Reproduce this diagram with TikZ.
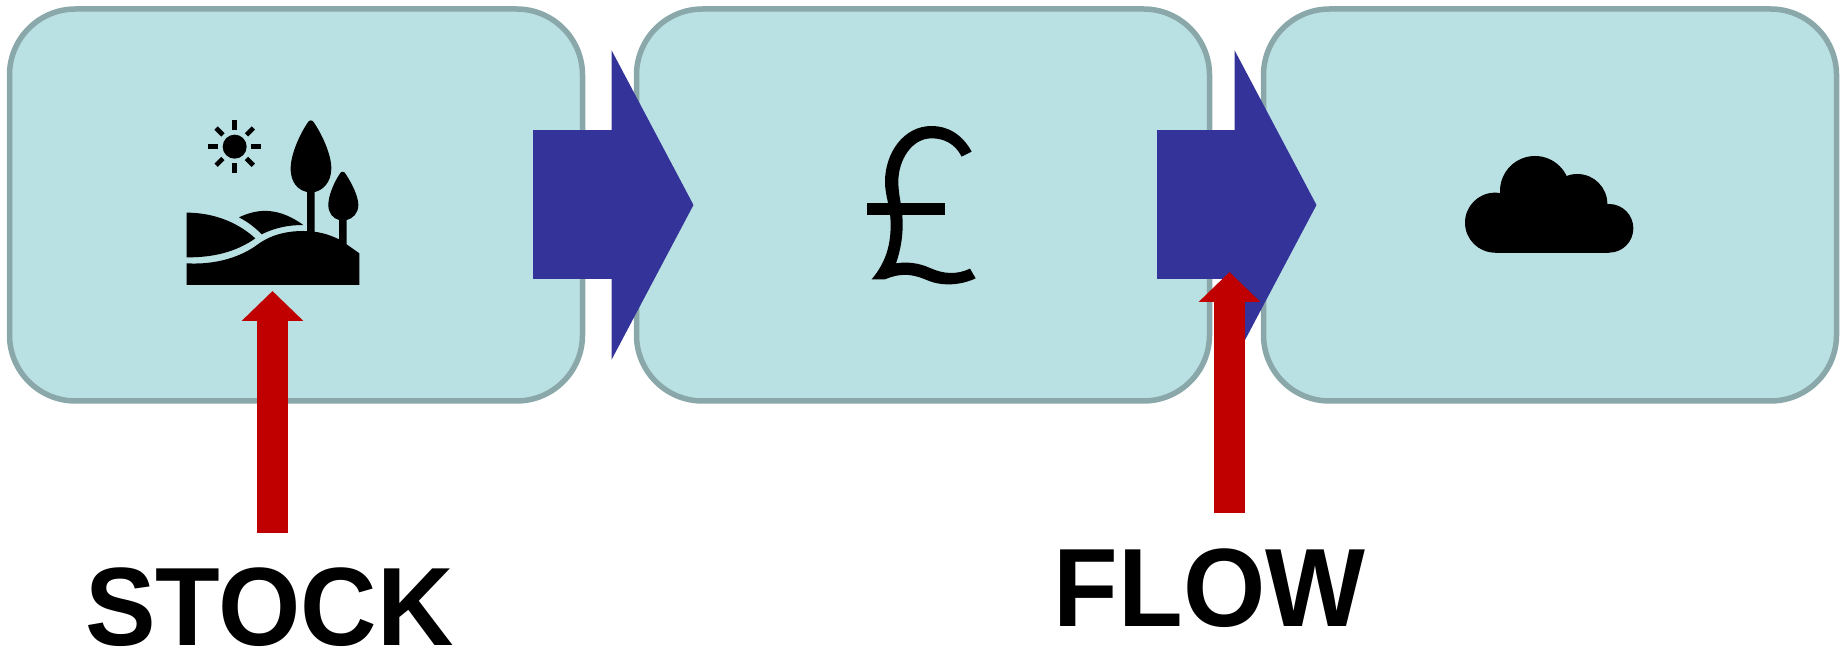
\documentclass[tikz,border=0pt]{standalone}
\usepackage{fontspec}
\setmainfont{Liberation Sans}[FakeStretch=0.95]
\usetikzlibrary{arrows.meta, positioning}
\definecolor{Pool}{HTML}{B9E0E3}
\definecolor{PoolEdge}{HTML}{8AA8AA}
\definecolor{Indigo}{HTML}{333399}
\definecolor{Signal}{HTML}{C00000}
\tikzset{
  stagebox/.style={rectangle, rounded corners=33pt, draw=PoolEdge, fill=Pool, line width=2.75pt,
                   minimum width=286.5pt, minimum height=196pt, outer sep=0pt, inner sep=0pt},
  labeltext/.style={font=\fontsize{55.7pt}{60pt}\selectfont\bfseries, text=black, inner sep=0pt, outer sep=0pt},
  flowarr/.style={-{Triangle[length=41pt,width=153.25pt]}, line width=74.5pt, color=Indigo},
  callarr/.style={-{Triangle[length=15pt,width=30pt]}, line width=15.5pt, color=Signal},
}

\begin{document}
\begin{tikzpicture}[x=0.5pt, y=-0.5pt, node distance=27pt]
  \useasboundingbox (0,0) rectangle (1845,656);
  \node[stagebox] (land) at (296,205) {};
  \node[stagebox, right=of land] (money) {};
  \node[stagebox, right=of money] (air) {};
  % landscape
  \begin{scope}[shift={(160,100)}, scale=1/3]
    \fill (224,140) circle (36);
    \foreach \a in {0,45,...,315}
      \draw[line width=2.35pt] (224,140)++(\a:50) -- ++(\a:29);
    \fill (443,68) .. controls (447,59) and (458,59) .. (462,68)
      .. controls (482,97) and (514,160) .. (514,205)
      .. controls (514,250) and (485,272) .. (464,276) -- (464,400) -- (441,400) -- (441,276)
      .. controls (415,270) and (392,250) .. (392,205)
      .. controls (392,160) and (423,97) .. (443,68) -- cycle;
    \fill (539,222) .. controls (543,213) and (553,213) .. (557,222)
      .. controls (577,252) and (595,290) .. (595,315)
      .. controls (595,340) and (578,356) .. (560,360) -- (560,433) -- (598,460) -- (598,555)
      -- (80,555) -- (80,490) .. controls (170,495) and (245,470) .. (295,432)
      .. controls (340,400) and (390,393) .. (430,393) .. controls (470,393) and (505,402) .. (537,418)
      -- (537,360) .. controls (520,356) and (505,340) .. (505,315)
      .. controls (505,290) and (519,252) .. (539,222) -- cycle;
    \fill (80,338) .. controls (150,338) and (225,360) .. (286,415)
      .. controls (230,455) and (160,473) .. (80,472) -- cycle;
    \fill (237,352) .. controls (300,322) and (360,325) .. (430,375)
      .. controls (385,375) and (345,383) .. (305,403) .. controls (285,382) and (262,365) .. (237,352) -- cycle;
  \end{scope}
  % pound
  \begin{scope}[shift={(840,100)}, scale=1/3]
    \fill (395,155) .. controls (365,100) and (320,78) .. (275,78)
      .. controls (190,78) and (135,160) .. (135,245)
      .. controls (135,290) and (152,320) .. (152,375)
      .. controls (152,440) and (135,490) .. (95,538) -- (135,538)
      .. controls (190,515) and (225,525) .. (265,542)
      .. controls (310,560) and (365,555) .. (407,535) -- (390,506)
      .. controls (350,525) and (310,522) .. (270,504)
      .. controls (235,488) and (200,485) .. (168,490)
      .. controls (182,450) and (188,410) .. (188,375)
      .. controls (188,320) and (175,290) .. (175,245)
      .. controls (175,180) and (215,115) .. (275,115)
      .. controls (310,115) and (345,130) .. (365,170) -- cycle;
    \fill (80,308) rectangle (315,344);
  \end{scope}
  % cloud
  \begin{scope}[shift={(1440,130)}, scale=1/3]
    \foreach \cx/\cy/\r in {165/278/90, 285/183/105, 412/222/90, 507/295/73}
      \fill (\cx,\cy) circle (\r);
    \fill (165,240) rectangle (507,368);
  \end{scope}
  \draw[flowarr, shorten <=-24.75pt, shorten >=-28.5pt] (land.east) -- (money.west);
  \draw[flowarr, shorten <=-26.5pt, shorten >=-26.5pt] (money.east) -- (air.west);
  \node[labeltext] (stock) at (269.5,607.5) {STOCK};
  \node[labeltext] (flow) at (1209.5,588) {FLOW};
  \coordinate (stocktip) at (272.5,291);
  \coordinate (flowtip) at (1229.5,272);
  \draw[callarr, shorten <=17.5pt] (stocktip |- stock.north) -- (stocktip);
  \draw[callarr, shorten <=18pt] (flowtip |- flow.north) -- (flowtip);
\end{tikzpicture}
\end{document}
